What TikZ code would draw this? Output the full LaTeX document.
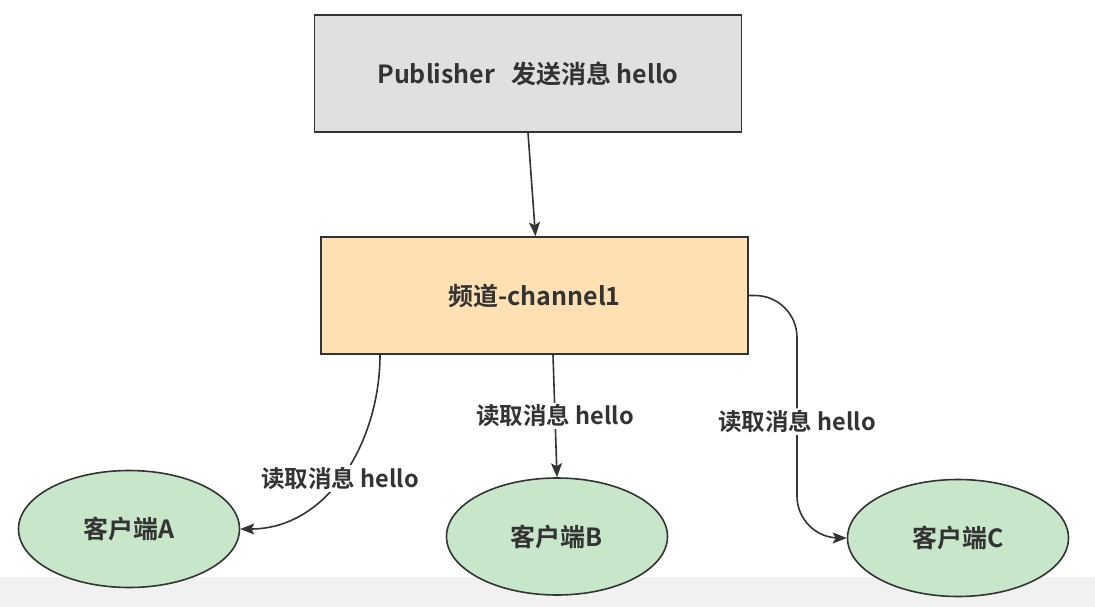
\documentclass[tikz,border=0pt]{standalone}
\usepackage{fontspec}
\setmainfont{Noto Sans CJK SC}[BoldFont={Noto Sans CJK SC Bold}]
\usetikzlibrary{shapes.geometric,arrows.meta}
\definecolor{ink}{HTML}{333333}
\definecolor{pubgray}{HTML}{E0E0E0}
\definecolor{chanorange}{HTML}{FFE0B2}
\definecolor{cligreen}{HTML}{C8E6C9}
\definecolor{stripgray}{HTML}{F1F1F1}
\begin{document}
\begin{tikzpicture}[x=1pt,y=-1pt,
  box/.style={draw=ink, line width=1.6pt, minimum width=427pt, minimum height=117pt, text=ink, font=\bfseries\fontsize{25}{30}\selectfont},
  client/.style={ellipse, draw=ink, line width=1.6pt, fill=cligreen, minimum width=221pt, minimum height=117pt, inner sep=0pt, text=ink, font=\bfseries\fontsize{25}{30}\selectfont},
  arr/.style={draw=ink, line width=1.6pt, -{Stealth[length=14pt,width=11pt,inset=3pt]}},
  lbl/.style={fill=white, text=ink, inner sep=2pt, font=\bfseries\fontsize{23.5}{28}\selectfont}]
\fill[white] (0,0) rectangle (1095,607);
\useasboundingbox (0,0) rectangle (1095,607);
\fill[stripgray] (0,577) rectangle (1095,607);
% boxes
\node[box, fill=pubgray] (pub) at (528,73.5) {Publisher\hspace{0.4em} 发送消息 hello};
\node[box, fill=chanorange] (chan) at (534.5,295.5) {频道-channel1};
% clients
\node[client] (cliA) at (129,529) {客户端A};
\node[client] (cliB) at (557,536.5) {客户端B};
\node[client] (cliC) at (958,538) {客户端C};
\coordinate (bendC) at (797,538);
% links
\draw[arr] (pub.south) -- ([xshift=1pt]chan.north);
\draw[arr] ([xshift=-154.5pt]chan.south) to[out=-90,in=0] node[lbl,pos=0.52] {读取消息 hello} (cliA.east);
\draw[arr] ([xshift=18.5pt]chan.south) -- node[lbl,pos=0.5] {读取消息 hello} (cliB.north);
\draw[arr, rounded corners=42pt] (chan.east) -| node[lbl,pos=0.76] {读取消息 hello} (bendC) -- (cliC.west);
\end{tikzpicture}
\end{document}
